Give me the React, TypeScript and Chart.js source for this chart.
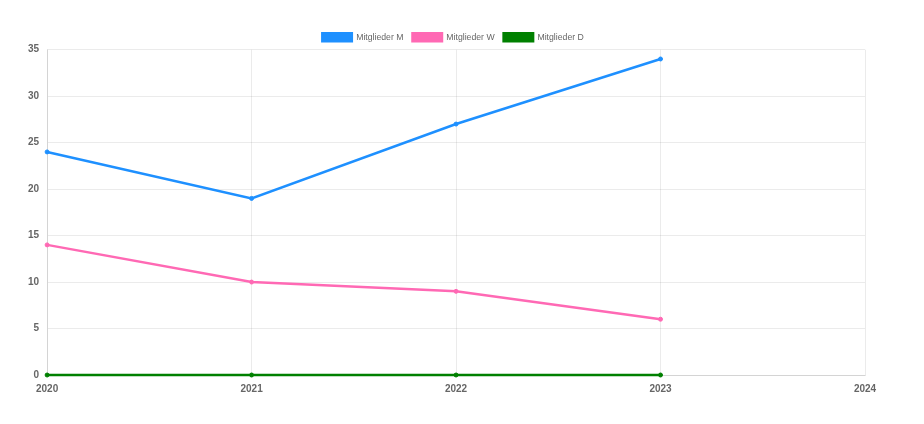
import React, { useEffect, useRef } from "react";
import { Chart, registerables } from "chart.js";

Chart.register(...registerables);

const years = ["2020", "2021", "2022", "2023", "2024"];
const mitgliederM = [24, 19, 27, 34];
const mitgliederW = [14, 10, 9, 6];
const mitgliederD = [0, 0, 0, 0];

const FONT = "'Liberation Sans', Arial, sans-serif";

const legendTweak = {
  id: "legendTweak",
  beforeInit(chart: any) {
    const lg = chart.legend;
    if (!lg) return;
    const origFit = lg.fit.bind(lg);
    lg.fit = function () {
      origFit();
      this.height -= 2;
    };
    const origDraw = lg.draw.bind(lg);
    lg.draw = function () {
      const ctx = chart.ctx;
      ctx.save();
      ctx.translate(-3, 0);
      origDraw();
      ctx.restore();
    };
  },
};

export default function App() {
  const ref = useRef<HTMLCanvasElement | null>(null);
  useEffect(() => {
    if (!ref.current) return;
    const mk = (label: string, data: number[], color: string) => ({
      label,
      data,
      borderColor: color,
      backgroundColor: color,
      borderWidth: 2.5,
      pointRadius: 2,
      pointBorderWidth: 1,
      fill: false,
      clip: false as any,
    });
    const chart = new Chart(ref.current, {
      type: "line",
      data: {
        labels: years,
        datasets: [
          mk("Mitglieder M", mitgliederM, "#1E90FF"),
          mk("Mitglieder W", mitgliederW, "#FF69B4"),
          mk("Mitglieder D", mitgliederD, "#008000"),
        ],
      },
      plugins: [legendTweak],
      options: {
        animation: false,
        responsive: true,
        maintainAspectRatio: false,
        layout: { padding: { left: 12, right: 31, top: 16, bottom: 5 } },
        plugins: {
          legend: {
            position: "top",
            fullSize: false,
            labels: {
              boxWidth: 29.5,
              boxHeight: 8,
              padding: 9,
              color: "#666",
              font: { family: FONT, size: 8.7 },
            },
          },
          tooltip: { enabled: false },
        },
        scales: {
          x: {
            grid: { drawTicks: false, color: "rgba(0,0,0,0.08)" },
            ticks: {
              padding: 8,
              color: "#666",
              font: { family: FONT, size: 10, weight: "bold" },
            },
          },
          y: {
            min: 0,
            max: 35,
            grid: { drawTicks: false, color: "rgba(0,0,0,0.08)" },
            ticks: {
              stepSize: 5,
              padding: 8,
              color: "#666",
              font: { family: FONT, size: 10, weight: "bold" },
            },
          },
        },
      },
    });
    return () => chart.destroy();
  }, []);
  return (
    <div style={{ width: 888, height: 400 }}>
      <canvas ref={ref} />
    </div>
  );
}
